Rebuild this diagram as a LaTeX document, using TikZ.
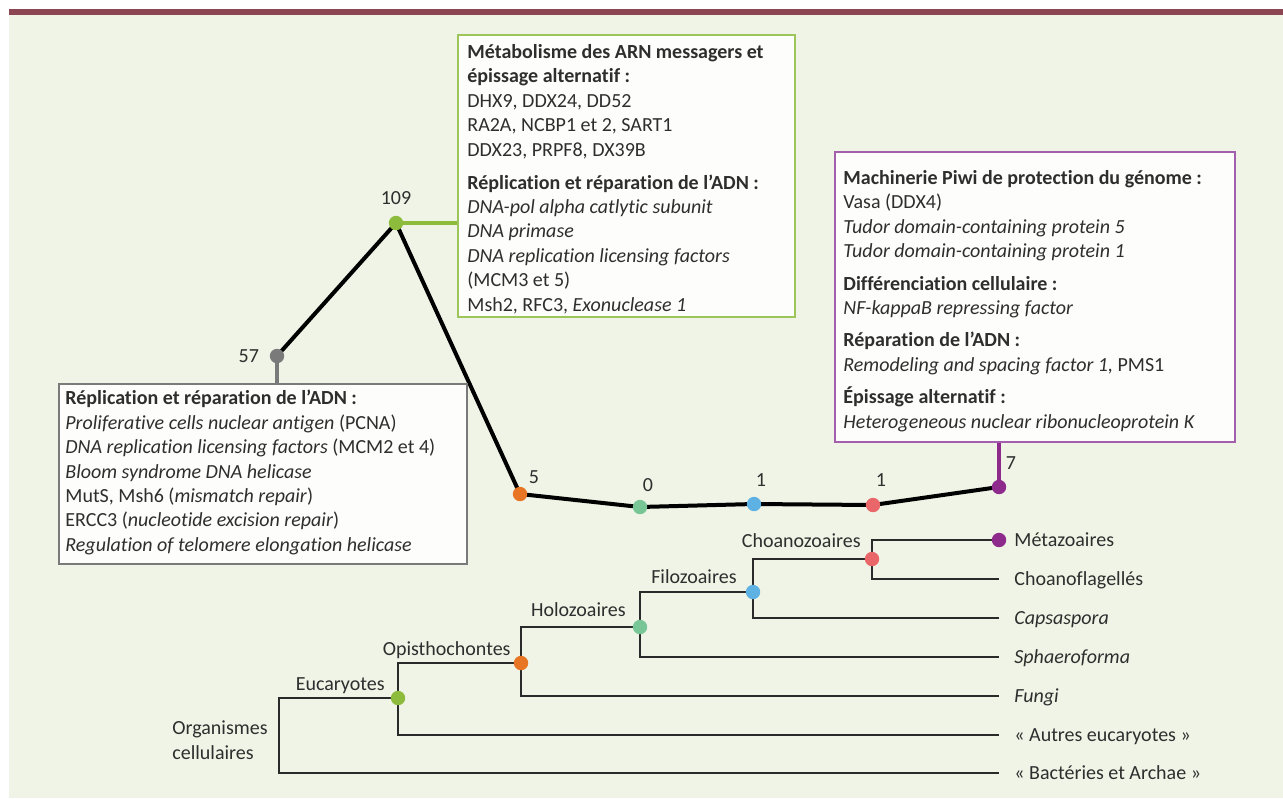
\documentclass[tikz,border=0pt]{standalone}
\usepackage{fontspec}
\setmainfont{Carlito}[Ligatures=NoCommon]
\usetikzlibrary{positioning, backgrounds}
\definecolor{bgGreen}{HTML}{EFF4E6}
\definecolor{barRed}{HTML}{8C4651}
\definecolor{boxWhite}{HTML}{FDFEFB}
\definecolor{txtGray}{HTML}{2E2E2E}
\definecolor{treeDark}{HTML}{2A2A2A}
\definecolor{oliveGreen}{HTML}{8DBB3C}
\definecolor{oliveLine}{HTML}{9DC55A}
\definecolor{midGray}{HTML}{7A7A7A}
\definecolor{orangeDot}{HTML}{E87524}
\definecolor{mintDot}{HTML}{78C595}
\definecolor{blueDot}{HTML}{5DB2E3}
\definecolor{salmonDot}{HTML}{EA6769}
\definecolor{purpleDot}{HTML}{8E2A8C}
\definecolor{purpleLine}{HTML}{A45EAE}
\begin{document}
\begin{tikzpicture}[x=0.5pt, y=-0.5pt, font=\fontsize{10}{12.2}\selectfont, text=txtGray,
  dot/.style={circle, fill=#1, inner sep=0pt, minimum size=7.2pt},
  num/.style={inner sep=0pt},
  infobox/.style={draw=#1, line width=1.1pt, fill=boxWhite, anchor=north west, inner sep=0pt},
  infotext/.style={anchor=north west, align=left, inner sep=0pt},
  clade/.style={anchor=base east, inner sep=0pt},
  leaf/.style={anchor=base west, inner sep=0pt},
  evo/.style={line width=2pt, black},
  branch/.style={line width=1.4pt, treeDark}]
\useasboundingbox (0,0) rectangle (1283,798);
\begin{scope}[on background layer]
  \fill[bgGreen] (9,15) rectangle (1283,798);
  \fill[barRed] (9,9) rectangle (1283,15);
\end{scope}

% boxes
\node[infobox=midGray, minimum width=204pt, minimum height=90pt] (boxRep) at (58,383) {};
\node[infotext] (txtRep) at (65,390) {\textbf{Réplication et réparation de l’ADN~:}\\
  \textit{Proliferative cells nuclear antigen} (PCNA)\\
  \textit{DNA replication licensing factors} (MCM2 et 4)\\
  \textit{Bloom syndrome DNA helicase}\\
  MutS, Msh6 (\textit{mismatch repair})\\
  ERCC3 (\textit{nucleotide excision repair})\\
  \textit{Regulation of telomere elongation helicase}};

\node[infobox=oliveLine, minimum width=168.5pt, minimum height=141pt] (boxMet) at (457,34) {};
\node[infotext] (txtMet) at (467,44) {\textbf{Métabolisme des ARN messagers et}\\
  \textbf{épissage alternatif~:}\\
  DHX9, DDX24, DD52\\
  RA2A, NCBP1 et 2, SART1\\
  DDX23, PRPF8, DX39B\\[4.3pt]
  \textbf{Réplication et réparation de l’ADN~:}\\
  \textit{DNA-pol alpha catlytic subunit}\\
  \textit{DNA primase}\\
  \textit{DNA replication licensing factors}\\
  (MCM3 et 5)\\
  Msh2, RFC3, \textit{Exonuclease 1}};

\node[infobox=purpleLine, minimum width=200pt, minimum height=145pt] (boxPiwi) at (834,151) {};
\node[infotext] (txtPiwi) at (843,170) {\textbf{Machinerie Piwi de protection du génome~:}\\
  Vasa (DDX4)\\
  \textit{Tudor domain-containing protein 5}\\
  \textit{Tudor domain-containing protein 1}\\[4pt]
  \textbf{Différenciation cellulaire~:}\\
  \textit{NF-kappaB repressing factor}\\[4pt]
  \textbf{Réparation de l’ADN~:}\\
  \textit{Remodeling and spacing factor 1,} PMS1\\[4pt]
  \textbf{Épissage alternatif~:}\\
  \textit{Heterogeneous nuclear ribonucleoprotein K}};

% gains along the lineage
\node[dot=midGray] (n57) at (277,356) {};
\node[dot=oliveGreen] (n109) at (396,223) {};
\node[dot=orangeDot] (n5) at (520,494) {};
\node[dot=mintDot] (n0) at (640,507) {};
\node[dot=blueDot] (n1a) at (754,504) {};
\node[dot=salmonDot] (n1b) at (873,505) {};
\node[dot=purpleDot] (n7) at (999,487) {};
\node[num, left=5pt of n57] {57};
\node[num, above=5pt of n109] {109};
\node[num] at ([shift={(14,-17)}]n5.center) {5};
\node[num] at ([shift={(8,-22)}]n0.center) {0};
\node[num] at ([shift={(7,-24)}]n1a.center) {1};
\node[num] at ([shift={(8,-25)}]n1b.center) {1};
\node[num] at ([shift={(12,-24)}]n7.center) {7};

% cladogram
\node[dot=oliveGreen] (euk) at (398,698) {};
\node[dot=orangeDot] (opi) at (521,663) {};
\node[dot=mintDot] (holo) at (640,627) {};
\node[dot=blueDot] (filo) at (753,592) {};
\node[dot=salmonDot] (choa) at (872,559) {};
\node[dot=purpleDot] (meta) at (999,540) {};
\coordinate (root) at (279,740);
\coordinate (choaf) at (999,579);
\coordinate (caps) at (999,618);
\coordinate (sphae) at (999,657);
\coordinate (fungi) at (999,696);
\coordinate (autres) at (999,735);
\coordinate (bact) at (999,773);

\node[left=5.5pt of root, align=left, inner sep=0pt] {Organismes\\cellulaires};
\node[clade] at ([shift={(-13,-8)}]euk.center) {Eucaryotes};
\node[clade] at ([shift={(-10,-8)}]opi.center) {Opisthochontes};
\node[clade] at ([shift={(-14,-11)}]holo.center) {Holozoaires};
\node[clade] at ([shift={(-16,-9)}]filo.center) {Filozoaires};
\node[clade] at ([shift={(-11,-12)}]choa.center) {Choanozoaires};
\node[leaf] at ([shift={(15,6)}]meta.center) {Métazoaires};
\node[leaf] at ([shift={(15,6)}]choaf) {Choanoflagellés};
\node[leaf] at ([shift={(15,6)}]caps) {\textit{Capsaspora}};
\node[leaf] at ([shift={(15,6)}]sphae) {\textit{Sphaeroforma}};
\node[leaf] at ([shift={(15,6)}]fungi) {\textit{Fungi}};
\node[leaf] at ([shift={(15,6)}]autres) {«~Autres eucaryotes~»};
\node[leaf] at ([shift={(15,6)}]bact) {«~Bactéries et Archae~»};

\begin{scope}[on background layer]
  \draw[evo] (n57.center) -- (n109.center) -- (n5.center) -- (n0.center)
    -- (n1a.center) -- (n1b.center) -- (n7.center);
  \draw[line width=2pt, midGray] (n57.center) -- (n57.center |- boxRep.north);
  \draw[line width=2pt, oliveGreen] (n109.center) -- (n109.center -| boxMet.west);
  \draw[line width=2pt, purpleDot] (n7.center) -- (n7.center |- boxPiwi.south);
  \draw[branch] (euk.center) -| (root) |- (bact);
  \draw[branch] (opi.center) -| (euk.center) |- (autres);
  \draw[branch] (holo.center) -| (opi.center) |- (fungi);
  \draw[branch] (filo.center) -| (holo.center) |- (sphae);
  \draw[branch] (choa.center) -| (filo.center) |- (caps);
  \draw[branch] (meta.center) -| (choa.center) |- (choaf);
\end{scope}
\end{tikzpicture}
\end{document}
